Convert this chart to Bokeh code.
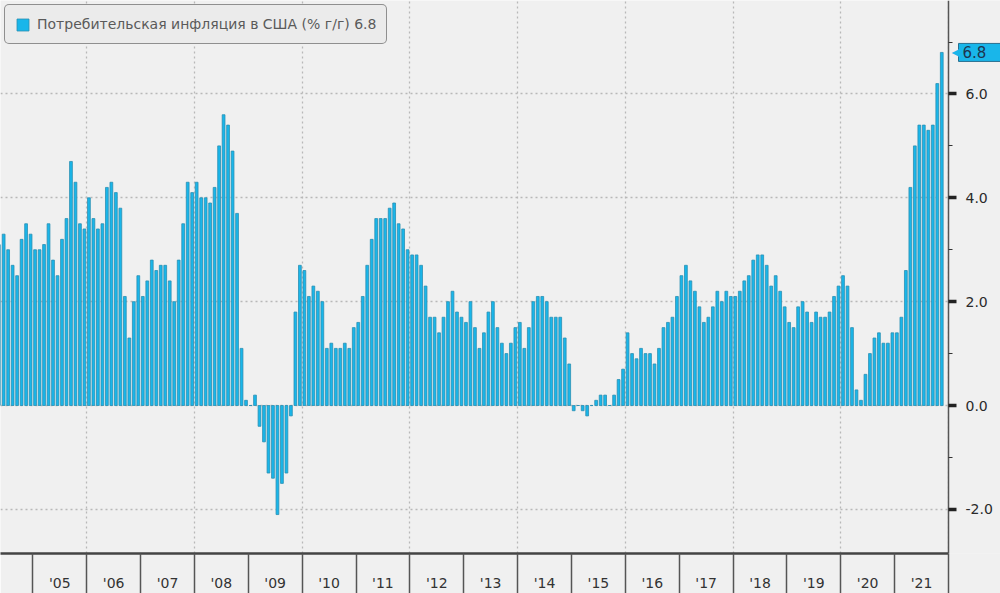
from bokeh.plotting import figure
from bokeh.models import (ColumnDataSource, FixedTicker, Legend, LegendItem, Label,
                          LinearAxis, BoxAnnotation)
from bokeh.embed import file_html
from bokeh.resources import INLINE

# ---- data: US CPI, % y/y, monthly, May 2004 .. Nov 2021 ----
start_year, start_month = 2004, 5
cpi_2004 = [3.1, 3.3, 3.0, 2.7, 2.5, 3.2, 3.5, 3.3]           # May-Dec
cpi_2005 = [3.0, 3.0, 3.1, 3.5, 2.8, 2.5, 3.2, 3.6, 4.7, 4.3, 3.5, 3.4]
cpi_2006 = [4.0, 3.6, 3.4, 3.5, 4.2, 4.3, 4.1, 3.8, 2.1, 1.3, 2.0, 2.5]
cpi_2007 = [2.1, 2.4, 2.8, 2.6, 2.7, 2.7, 2.4, 2.0, 2.8, 3.5, 4.3, 4.1]
cpi_2008 = [4.3, 4.0, 4.0, 3.9, 4.2, 5.0, 5.6, 5.4, 4.9, 3.7, 1.1, 0.1]
cpi_2009 = [0.0, 0.2, -0.4, -0.7, -1.3, -1.4, -2.1, -1.5, -1.3, -0.2, 1.8, 2.7]
cpi_2010 = [2.6, 2.1, 2.3, 2.2, 2.0, 1.1, 1.2, 1.1, 1.1, 1.2, 1.1, 1.5]
cpi_2011 = [1.6, 2.1, 2.7, 3.2, 3.6, 3.6, 3.6, 3.8, 3.9, 3.5, 3.4, 3.0]
cpi_2012 = [2.9, 2.9, 2.7, 2.3, 1.7, 1.7, 1.4, 1.7, 2.0, 2.2, 1.8, 1.7]
cpi_2013 = [1.6, 2.0, 1.5, 1.1, 1.4, 1.8, 2.0, 1.5, 1.2, 1.0, 1.2, 1.5]
cpi_2014 = [1.6, 1.1, 1.5, 2.0, 2.1, 2.1, 2.0, 1.7, 1.7, 1.7, 1.3, 0.8]
cpi_2015 = [-0.1, 0.0, -0.1, -0.2, 0.0, 0.1, 0.2, 0.2, 0.0, 0.2, 0.5, 0.7]
cpi_2016 = [1.4, 1.0, 0.9, 1.1, 1.0, 1.0, 0.8, 1.1, 1.5, 1.6, 1.7, 2.1]
cpi_2017 = [2.5, 2.7, 2.4, 2.2, 1.9, 1.6, 1.7, 1.9, 2.2, 2.0, 2.2, 2.1]
cpi_2018 = [2.1, 2.2, 2.4, 2.5, 2.8, 2.9, 2.9, 2.7, 2.3, 2.5, 2.2, 1.9]
cpi_2019 = [1.6, 1.5, 1.9, 2.0, 1.8, 1.6, 1.8, 1.7, 1.7, 1.8, 2.1, 2.3]
cpi_2020 = [2.5, 2.3, 1.5, 0.3, 0.1, 0.6, 1.0, 1.3, 1.4, 1.2, 1.2, 1.4]
cpi_2021 = [1.4, 1.7, 2.6, 4.2, 5.0, 5.4, 5.4, 5.3, 5.4, 6.2, 6.8]  # Jan-Nov

year_labels = ["'05", "'06", "'07", "'08", "'09", "'10", "'11", "'12", "'13",
               "'14", "'15", "'16", "'17", "'18", "'19", "'20", "'21"]
label_years = list(range(2005, 2022))
y_major = [-2, 0, 2, 4, 6]
y_minor = [-1, 1, 3, 5, 7]
series_name = "Потребительская инфляция в США (% г/г) 6.8"

values = (cpi_2004 + cpi_2005 + cpi_2006 + cpi_2007 + cpi_2008 + cpi_2009 +
          cpi_2010 + cpi_2011 + cpi_2012 + cpi_2013 + cpi_2014 + cpi_2015 +
          cpi_2016 + cpi_2017 + cpi_2018 + cpi_2019 + cpi_2020 + cpi_2021)

# x in months since Jan 2000; bar centred mid-month
def mon(y, m):
    return (y - 2000) * 12 + (m - 1)

x0 = mon(start_year, start_month)
xs = [x0 + i + 0.5 for i in range(len(values))]
src = ColumnDataSource(dict(x=xs, v=values))

BG = "#f0f0f0"
FONT = "DejaVu Sans"
CYAN = "#19b6ea"
X_START = 52.8
X_AXIS = mon(2022, 1)                       # where the value axis sits
X_END = X_AXIS + 52 * (X_AXIS - X_START) / 948.0   # room right of the axis

p = figure(width=1000, height=593, output_backend="svg", toolbar_location=None,
           x_range=(X_START, X_END), y_range=(-2.85, 7.80),
           y_axis_location=None,
           min_border_left=0, min_border_top=0, min_border_right=0,
           min_border_bottom=40)
p.background_fill_color = BG
p.border_fill_color = BG
p.outline_line_color = None

bars = p.vbar(x="x", top="v", bottom=0, width=0.62, source=src,
              fill_color=CYAN, line_color="#2a8fb3", line_width=0.8)

# grids
p.xgrid.ticker = FixedTicker(ticks=[mon(y, 1) for y in range(2006, 2023, 2)])
p.ygrid.ticker = FixedTicker(ticks=y_major)
for g in (p.xgrid, p.ygrid):
    g.grid_line_color = "#b8b8b8"
    g.grid_line_dash = "2 3"
    g.grid_line_width = 1.3

# hide grid right of the value axis
p.add_layout(BoxAnnotation(left=X_AXIS, fill_color=BG, fill_alpha=1.0,
                           line_color=None, level="underlay"))

# bottom axis: labels mid-year, separators at year boundaries
xa = p.xaxis[0]
xa.bounds = (X_START, X_AXIS)
xa.ticker = FixedTicker(ticks=[mon(y, 7) for y in label_years],
                        minor_ticks=[mon(y, 1) for y in range(2005, 2023)])
xa.major_label_overrides = {mon(y, 7): lab for y, lab in zip(label_years, year_labels)}
xa.major_tick_out = 0
xa.major_tick_in = 0
xa.minor_tick_out = 40
xa.minor_tick_in = 0
xa.minor_tick_line_color = "#555555"
xa.minor_tick_line_width = 1.5
xa.axis_line_color = "#444444"
xa.axis_line_width = 2.5
xa.major_label_standoff = -19
xa.major_label_text_font = FONT
xa.major_label_text_font_size = "14px"
xa.major_label_text_color = "#333333"

# value axis, pinned at the end of the time span
ya = LinearAxis(fixed_location=X_AXIS,
                ticker=FixedTicker(ticks=y_major, minor_ticks=y_minor))
ya.major_label_overrides = {t: f"{t:.1f}" for t in y_major}
ya.major_tick_out = 8
ya.major_tick_in = 0
ya.major_tick_line_width = 3.5
ya.major_tick_line_color = "#222222"
ya.minor_tick_out = 4
ya.minor_tick_in = 0
ya.minor_tick_line_color = "#333333"
ya.axis_line_color = "#555555"
ya.axis_line_width = 1.5
ya.major_label_standoff = 9
ya.major_label_text_font = FONT
ya.major_label_text_font_size = "14px"
ya.major_label_text_color = "#2a2a2a"
p.add_layout(ya, "right")

# legend
legend = Legend(items=[LegendItem(label=series_name, renderers=[bars])],
                location="top_left", margin=4, padding=10, spacing=0,
                glyph_width=15, glyph_height=15, label_height=18,
                label_standoff=7, label_text_font=FONT,
                label_text_font_size="14px", label_text_color="#5a5a5a",
                background_fill_color="#ebebeb", background_fill_alpha=1.0,
                border_line_color="#333333", border_line_width=1.5)
if "border_radius" in Legend.properties():
    legend.border_radius = 5
p.add_layout(legend)

# last-value tag
tag = Label(x=X_AXIS, y=values[-1], x_offset=10, text=f"{values[-1]:.1f}",
            text_baseline="middle", text_align="left", text_font=FONT,
            text_font_size="15px", text_color="#1d3550",
            background_fill_color=CYAN, border_line_color="#2a6f8f",
            level="overlay")
if "padding" in Label.properties():
    try:
        tag.padding = dict(left=4, right=30, top=3, bottom=3)
    except Exception:
        tag.padding = 3
p.add_layout(tag)

# pointed left end of the tag
arrow = Label(x=X_AXIS, y=values[-1], x_offset=3, text="\u25c0",
              text_baseline="middle", text_align="left", text_font=FONT,
              text_font_size="15px", text_color=CYAN, level="overlay")
p.add_layout(arrow)

open("out.html", "w").write(file_html(p, INLINE))
